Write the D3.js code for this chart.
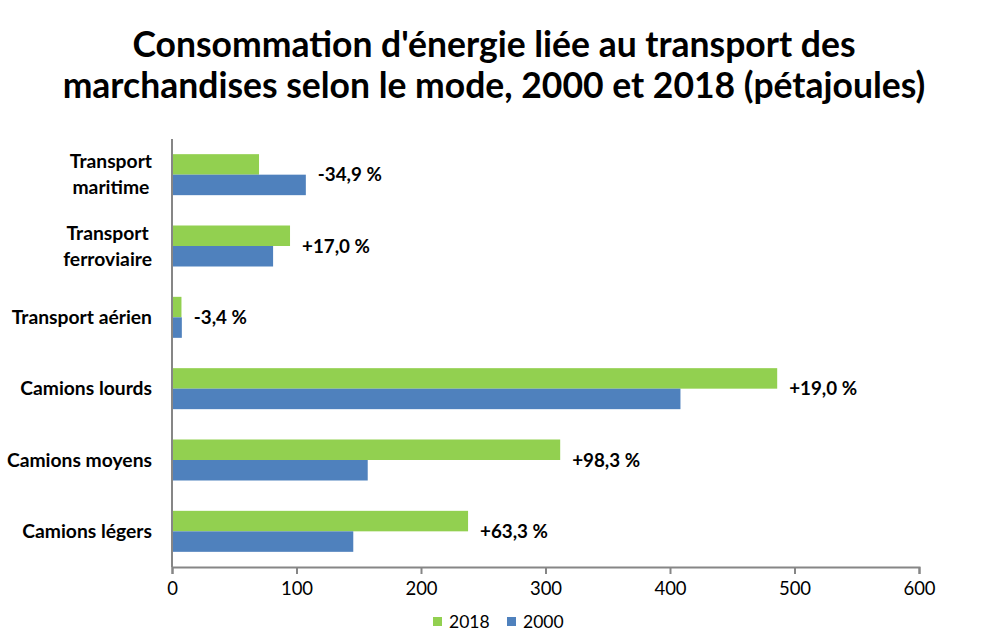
<!DOCTYPE html>
<html><head><meta charset="utf-8">
<script src="https://cdn.jsdelivr.net/npm/d3@7"></script>
<style>body{margin:0;background:#fff}svg{font-family:Lato,"Open Sans",sans-serif}</style>
</head><body>
<svg id="c" width="985" height="640"></svg>
<script>
const categories = [["Transport","maritime"],["Transport","ferroviaire"],["Transport aérien"],["Camions lourds"],["Camions moyens"],["Camions légers"]];
const values2018 = [69.9, 94.8, 7.6, 486.1, 311.8, 237.8];
const values2000 = [107.5, 81.2, 7.9, 408.4, 157.2, 145.6];
const changeLabels = ["-34,9 %","+17,0 %","-3,4 %","+19,0 %","+98,3 %","+63,3 %"];
const xTicks = [0,100,200,300,400,500,600];
const seriesNames = ["2018","2000"];
const colors = ["#92D050","#4F81BD"];
const titleLines = ["Consommation d'énergie liée au transport des","marchandises selon le mode, 2000 et 2018 (pétajoules)"];

(function(){
const svg = d3.select("#c");
const pL = 172, pR = 919, pT = 139, pB = 567;
const x = d3.scaleLinear().domain([0,600]).range([pL,pR]);
const keys = categories.map((c,i)=>i);
const y = d3.scaleBand().domain(keys).range([pT,pB]);
const barH = 20.5;

// title
svg.append("g").selectAll("text").data(titleLines).join("text")
  .attr("x",494).attr("y",(d,i)=>57+i*41).attr("text-anchor","middle")
  .attr("font-weight","bold").attr("font-size",35.5).attr("fill","#000").text(d=>d);

// bars
const g = svg.append("g");
keys.forEach(i=>{
  const cy = y(i)+y.bandwidth()/2;
  g.append("rect").attr("x",x(0)).attr("y",cy-barH).attr("width",x(values2018[i])-x(0)).attr("height",barH).attr("fill",colors[0]);
  g.append("rect").attr("x",x(0)).attr("y",cy).attr("width",x(values2000[i])-x(0)).attr("height",barH).attr("fill",colors[1]);
  const mx = Math.max(values2018[i],values2000[i]);
  g.append("text").attr("x",x(mx)+12).attr("y",cy).attr("dy","0.35em")
    .attr("font-weight","bold").attr("font-size",18.8).attr("fill","#000").text(changeLabels[i]);
});

// category labels
keys.forEach(i=>{
  const cy = y(i)+y.bandwidth()/2;
  const lines = categories[i];
  const t = svg.append("text").attr("font-weight","bold").attr("font-size",19.3).attr("fill","#000").attr("text-anchor","middle");
  lines.forEach((l,j)=>{
    t.append("tspan").attr("y",cy+(j-(lines.length-1)/2)*26).attr("dy","0.35em").text(l);
  });
  let w = 0;
  t.selectAll("tspan").each(function(){w=Math.max(w,this.getComputedTextLength());});
  t.selectAll("tspan").attr("x",152-w/2);
});

// axes
const xa = svg.append("g").attr("transform",`translate(0,${pB})`)
  .call(d3.axisBottom(x).tickValues(xTicks).tickSize(7).tickPadding(8).tickSizeOuter(7));
xa.select(".domain").attr("stroke","#868686").attr("stroke-width",2);
xa.selectAll(".tick line").attr("stroke","#868686").attr("stroke-width",2);
xa.selectAll(".tick text").attr("font-size",18.5).attr("fill","#000").attr("font-family","Lato,sans-serif");
svg.append("line").attr("x1",pL).attr("x2",pL).attr("y1",pT).attr("y2",pB)
  .attr("stroke","#868686").attr("stroke-width",2);

// legend
const lg = svg.append("g");
const lx = [433, 507];
seriesNames.forEach((s,i)=>{
  lg.append("rect").attr("x",lx[i]).attr("y",617).attr("width",9).attr("height",9).attr("fill",colors[i]);
  lg.append("text").attr("x",lx[i]+16).attr("y",622).attr("dy","0.35em").attr("font-size",17.5).attr("fill","#000").text(s);
});
})();
</script>
</body></html>
